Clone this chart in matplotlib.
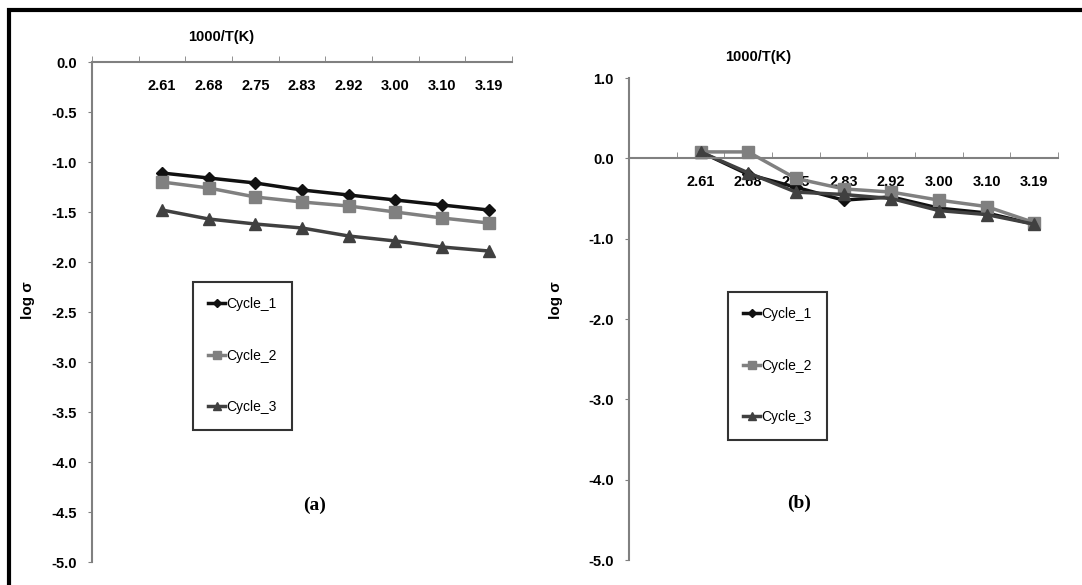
import numpy as np
import matplotlib.pyplot as plt
from matplotlib.patches import Rectangle

categories = ['2.61', '2.68', '2.75', '2.83', '2.92', '3.00', '3.10', '3.19']

# panel (a)
a_cycle1 = [-1.11, -1.16, -1.21, -1.28, -1.33, -1.38, -1.43, -1.48]
a_cycle2 = [-1.20, -1.26, -1.35, -1.40, -1.44, -1.50, -1.56, -1.61]
a_cycle3 = [-1.48, -1.57, -1.62, -1.66, -1.74, -1.79, -1.85, -1.89]

# panel (b)
b_cycle1 = [0.08, -0.20, -0.36, -0.52, -0.48, -0.62, -0.68, -0.82]
b_cycle2 = [0.08, 0.08, -0.25, -0.38, -0.42, -0.52, -0.60, -0.80]
b_cycle3 = [0.08, -0.18, -0.42, -0.45, -0.50, -0.65, -0.70, -0.82]

series_names = ['Cycle_1', 'Cycle_2', 'Cycle_3']
colors = ['#111111', '#808080', '#404040']
markers = ['D', 's', '^']
msizes = [6, 8, 8]

plt.rcParams['font.family'] = ['Liberation Sans', 'DejaVu Sans']

fig = plt.figure(figsize=(10.82, 5.85), dpi=100)
axa = fig.add_axes([92 / 1082, 1 - 562 / 585, 420 / 1082, 500 / 585])
axb = fig.add_axes([629 / 1082, 1 - 560 / 585, 429 / 1082, 482 / 585])

x = np.arange(len(categories))


def style(ax, ylim, yticks, label_pad):
    ax.set_xlim(-1.5, len(categories) - 0.5)
    ax.set_ylim(*ylim)
    for s in ['top', 'right']:
        ax.spines[s].set_visible(False)
    ax.spines['bottom'].set_position(('data', 0))
    ax.spines['bottom'].set_color('#808080')
    ax.spines['left'].set_color('#808080')
    ax.spines['bottom'].set_linewidth(1.5)
    ax.spines['left'].set_linewidth(1.5)
    ax.set_xticks(x)
    ax.set_xticklabels(categories, fontsize=10.5, fontweight='bold')
    ax.set_xticks(np.arange(-1.5, len(categories), 1.0), minor=True)
    ax.tick_params(axis='x', which='major', length=0, pad=label_pad)
    ax.tick_params(axis='x', which='minor', length=4, direction='in', color='#808080')
    ax.set_yticks(yticks)
    ax.set_yticklabels(['%.1f' % v for v in yticks], fontsize=10.5, fontweight='bold')
    ax.tick_params(axis='y', length=3, color='#808080', pad=8)


style(axa, (-5.0, 0.0), np.arange(0.0, -5.01, -0.5), 12)
style(axb, (-5.0, 1.0), np.arange(1.0, -5.01, -1.0), 12)

for ax, data in [(axa, [a_cycle1, a_cycle2, a_cycle3]), (axb, [b_cycle1, b_cycle2, b_cycle3])]:
    for name, vals, c, m, ms in zip(series_names, data, colors, markers, msizes):
        ax.plot(x, vals, color=c, marker=m, markersize=ms, linewidth=2.5, label=name, clip_on=False)

# axis titles
fig.text(221 / 1082, 1 - 37 / 585, '1000/T(K)', ha='center', va='center', fontsize=10.5, fontweight='bold')
fig.text(758 / 1082, 1 - 57 / 585, '1000/T(K)', ha='center', va='center', fontsize=10.5, fontweight='bold')
fig.text(28 / 1082, 1 - 300 / 585, 'log σ', rotation=90, ha='center', va='center', fontsize=11, fontweight='bold')
fig.text(556 / 1082, 1 - 300 / 585, 'log σ', rotation=90, ha='center', va='center', fontsize=11, fontweight='bold')

# panel labels
fig.text(315 / 1082, 1 - 505 / 585, '(a)', ha='center', va='center', fontsize=14, fontweight='bold', family='Liberation Serif')
fig.text(799 / 1082, 1 - 503 / 585, '(b)', ha='center', va='center', fontsize=14, fontweight='bold', family='Liberation Serif')

# legends
for ax, (lx, ty) in [(axa, (193, 282)), (axb, (728, 292))]:
    leg = ax.legend(loc='upper left', bbox_to_anchor=(lx / 1082, 1 - ty / 585), bbox_transform=fig.transFigure,
                    borderaxespad=0, fontsize=10, labelspacing=2.7, handlelength=1.2, handletextpad=0.1,
                    borderpad=1.1, fancybox=False, framealpha=1, edgecolor='#333333', markerscale=0.7)
    leg.get_frame().set_linewidth(1.5)

# outer border
fig.patches.append(Rectangle((9 / 1082, -0.1), 1.2, 1 - 10 / 585 + 0.1, transform=fig.transFigure,
                             fill=False, edgecolor='black', linewidth=3))

fig.savefig('out.png', dpi=100)
